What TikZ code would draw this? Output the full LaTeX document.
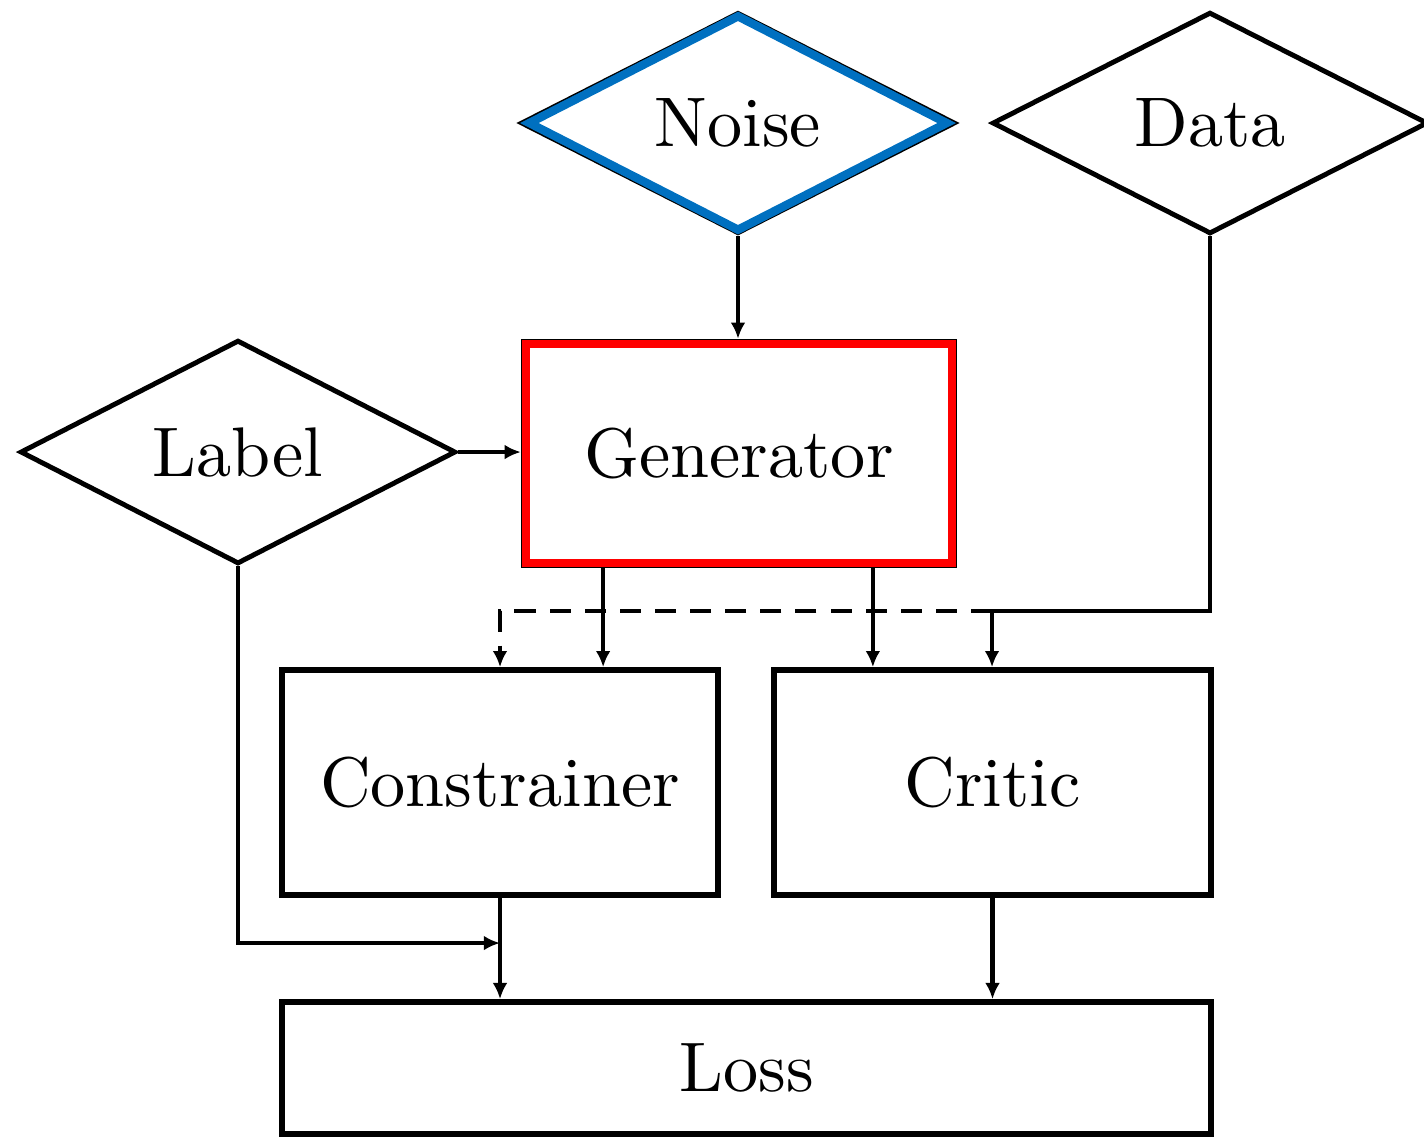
\documentclass[tikz,border=0pt]{standalone}
\usetikzlibrary{shapes.geometric,arrows.meta,calc}
\definecolor{noiseblue}{RGB}{0,112,192}
\begin{document}
\begin{tikzpicture}[x=0.005cm,y=-0.005cm,
  box/.style={draw, line width=0.85pt, rectangle, inner sep=0pt},
  dia/.style={draw, line width=0.7pt, diamond, inner sep=0pt, minimum width=2.18cm, minimum height=1.11cm},
  arr/.style={line width=0.65pt, -{Latex[length=2.3pt,width=2.1pt]}},
  dsh/.style={arr, dash pattern=on 3pt off 2pt}]
\useasboundingbox (0,0) rectangle (1424,1136);
% nodes
\node[dia, draw=black, line width=0.6pt] (noise) at (738,123) {Noise};
\draw[noiseblue, line width=1.2pt] ([xshift=1.6pt]noise.west) -- ([yshift=-0.9pt]noise.north) -- ([xshift=-1.6pt]noise.east) -- ([yshift=0.9pt]noise.south) -- cycle;
\node[dia] (data) at (1210,123) {Data};
\node[dia, minimum height=1.12cm] (label) at (238,452) {Label};
\node[box, line width=0.4pt, minimum width=2.17cm, minimum height=1.135cm] (gen) at (739,453.5) {Generator};
\draw[red, line width=1.1pt] ([shift={(0.75pt,0.75pt)}]gen.south west) rectangle ([shift={(-0.75pt,-0.75pt)}]gen.north east);
\node[box, minimum width=2.18cm, minimum height=1.125cm] (cons) at (500,782.5) {Constrainer};
\node[box, minimum width=2.185cm, minimum height=1.125cm] (crit) at (992.5,782.5) {Critic};
\node[box, minimum width=4.645cm, minimum height=0.66cm] (loss) at (746.5,1068) {Loss};
% junctions
\coordinate (j) at (992,611);
\coordinate (k) at (500,943);
% connectors
\draw[arr] (noise.south) -- (noise.south |- gen.north);
\draw[arr] (label.east) -- (label.east -| gen.west);
\draw[arr] ([xshift=-0.68cm]gen.south) -- ([xshift=-0.68cm]gen.south |- cons.north);
\draw[arr] ([xshift=0.67cm]gen.south) -- ([xshift=0.67cm]gen.south |- crit.north);
\draw[arr] (data.south) |- (j) -- (j |- crit.north);
\draw[dsh] (j) -| (cons.north);
\draw[arr] (label.south) |- (k);
\draw[arr] (cons.south) -- (cons.south |- loss.north);
\draw[arr] (crit.south) -- (crit.south |- loss.north);
\end{tikzpicture}
\end{document}
